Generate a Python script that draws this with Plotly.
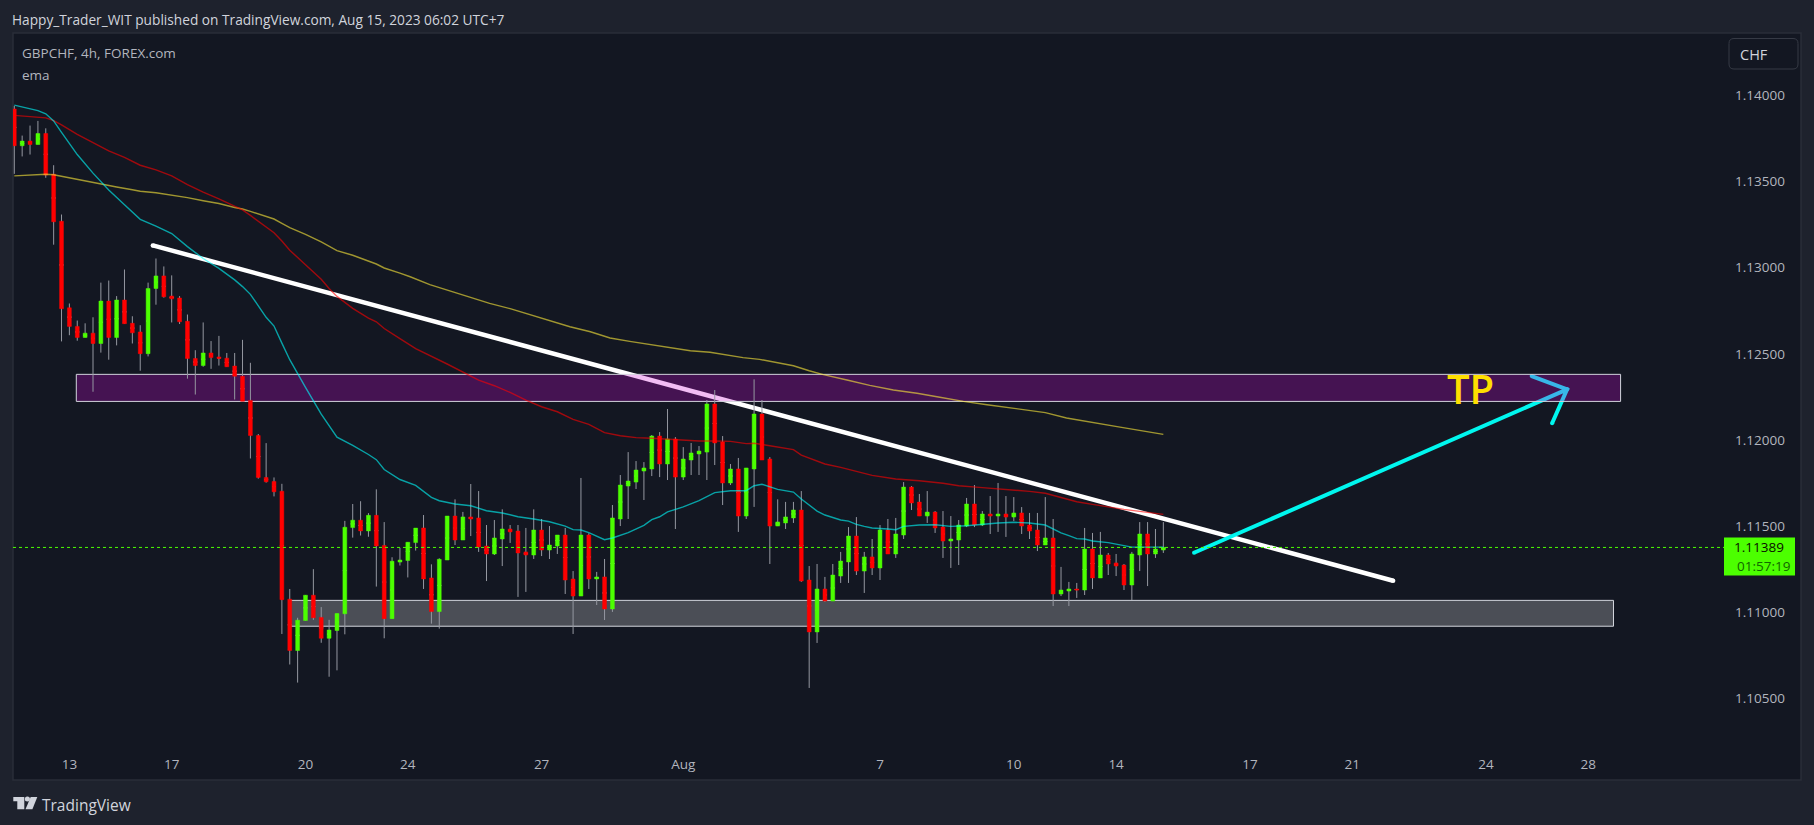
import plotly.graph_objects as go

# ---------- data ----------
opens = [1.13932,1.13719,1.13746,1.13726,1.13790,1.13554,1.13281,1.12779,1.12671,1.12607,
1.12632,1.12572,1.12818,1.12607,1.12824,1.12689,1.12639,1.12513,1.12891,1.12964,
1.12847,1.12836,1.12701,1.12485,1.12444,1.12517,1.12494,1.12487,1.12441,1.12382,
1.12242,1.12038,1.11795,1.11772,1.11715,1.11089,1.10791,1.10965,1.11112,1.10983,
1.10862,1.10907,1.11004,1.11504,1.11547,1.11485,1.11575,1.11400,1.10976,1.11304,
1.11313,1.11417,1.11502,1.11212,1.11017,1.11316,1.11571,1.11432,1.11566,1.11560,
1.11397,1.11351,1.11438,1.11496,1.11484,1.11363,1.11345,1.11490,1.11374,1.11397,
1.11461,1.11206,1.11107,1.11461,1.11206,1.11218,1.11032,1.11554,1.11745,1.11768,
1.11832,1.11844,1.12035,1.11873,1.12018,1.11797,1.11896,1.11931,1.11942,1.12221,
1.12000,1.11763,1.11844,1.11571,1.11844,1.12163,1.11902,1.11513,1.11531,1.11560,
1.11606,1.11200,1.10899,1.11148,1.11078,1.11223,1.11305,1.11455,1.11252,1.11334,
1.11270,1.11490,1.11351,1.11461,1.11739,1.11652,1.11571,1.11594,1.11507,1.11426,
1.11432,1.11513,1.11641,1.11519,1.11583,1.11571,1.11583,1.11565,1.11589,1.11519,
1.11490,1.11403,1.11444,1.11119,1.11136,1.11148,1.11142,1.11380,1.11212,1.11345,
1.11299,1.11287,1.11171,1.11345,1.11467,1.11351,1.11374]
closes = [1.13719,1.13746,1.13726,1.13790,1.13549,1.13278,1.12774,1.12671,1.12607,1.12632,
1.12572,1.12818,1.12607,1.12824,1.12687,1.12634,1.12513,1.12891,1.12964,1.12843,
1.12831,1.12698,1.12485,1.12444,1.12517,1.12490,1.12485,1.12437,1.12382,1.12237,
1.12038,1.11795,1.11770,1.11712,1.11086,1.10791,1.10967,1.11112,1.10981,1.10862,
1.10910,1.11006,1.11506,1.11547,1.11485,1.11575,1.11398,1.10976,1.11309,1.11316,
1.11419,1.11501,1.11206,1.11017,1.11320,1.11571,1.11432,1.11566,1.11554,1.11392,
1.11351,1.11444,1.11496,1.11479,1.11357,1.11345,1.11490,1.11374,1.11403,1.11461,
1.11200,1.11107,1.11461,1.11206,1.11218,1.11032,1.11560,1.11751,1.11774,1.11838,
1.11850,1.12035,1.11873,1.12018,1.11797,1.11902,1.11937,1.11948,1.12221,1.11995,
1.11763,1.11844,1.11571,1.11850,1.12163,1.11896,1.11513,1.11537,1.11566,1.11606,
1.11194,1.10899,1.11148,1.11078,1.11229,1.11310,1.11455,1.11252,1.11334,1.11270,
1.11490,1.11351,1.11467,1.11739,1.11647,1.11571,1.11594,1.11502,1.11426,1.11438,
1.11519,1.11641,1.11519,1.11583,1.11571,1.11583,1.11565,1.11589,1.11513,1.11484,
1.11403,1.11444,1.11119,1.11142,1.11148,1.11142,1.11380,1.11212,1.11345,1.11293,
1.11281,1.11171,1.11351,1.11467,1.11351,1.11380,1.11389]
highs = [1.13950,1.13778,1.13836,1.13863,1.13820,1.13606,1.13320,1.12804,1.12705,1.12689,
1.12724,1.12925,1.12937,1.12847,1.13001,1.12730,1.12678,1.12925,1.13065,1.13019,
1.12967,1.12847,1.12740,1.12533,1.12694,1.12586,1.12616,1.12517,1.12517,1.12593,
1.12460,1.12047,1.11994,1.11795,1.11758,1.11148,1.10981,1.11112,1.11263,1.11043,
1.10969,1.11006,1.11543,1.11641,1.11657,1.11588,1.11726,1.11536,1.11332,1.11387,
1.11419,1.11501,1.11577,1.11291,1.11326,1.11571,1.11668,1.11595,1.11757,1.11716,
1.11519,1.11548,1.11610,1.11519,1.11519,1.11502,1.11610,1.11554,1.11513,1.11461,
1.11502,1.11252,1.11792,1.11471,1.11247,1.11322,1.11635,1.11809,1.11942,1.11890,
1.11884,1.12041,1.12058,1.12192,1.12029,1.11971,1.11995,1.11977,1.12244,1.12302,
1.12035,1.11873,1.11908,1.11850,1.12364,1.12244,1.11913,1.11668,1.11653,1.11653,
1.11716,1.11281,1.11293,1.11218,1.11293,1.11363,1.11507,1.11565,1.11363,1.11438,
1.11519,1.11554,1.11560,1.11768,1.11745,1.11699,1.11716,1.11600,1.11600,1.11571,
1.11548,1.11676,1.11751,1.11600,1.11687,1.11763,1.11687,1.11681,1.11623,1.11589,
1.11589,1.11681,1.11554,1.11276,1.11189,1.11183,1.11502,1.11473,1.11479,1.11357,
1.11351,1.11293,1.11363,1.11536,1.11536,1.11496,1.11536]
lows = [1.13556,1.13657,1.13668,1.13726,1.13533,1.13145,1.12584,1.12620,1.12588,1.12607,
1.12292,1.12519,1.12478,1.12561,1.12687,1.12572,1.12414,1.12497,1.12797,1.12838,
1.12694,1.12685,1.12368,1.12276,1.12437,1.12425,1.12444,1.12437,1.12247,1.12237,
1.11905,1.11788,1.11765,1.11685,1.10887,1.10710,1.10605,1.10965,1.10969,1.10836,
1.10639,1.10676,1.10885,1.11446,1.11458,1.11451,1.11162,1.10862,1.10976,1.11284,
1.11215,1.11371,1.11148,1.10947,1.10918,1.11316,1.11403,1.11432,1.11455,1.11363,
1.11194,1.11345,1.11281,1.11415,1.11102,1.11131,1.11322,1.11339,1.11322,1.11351,
1.11119,1.10887,1.11107,1.11148,1.11055,1.10968,1.11015,1.11513,1.11554,1.11728,
1.11664,1.11803,1.11797,1.11780,1.11496,1.11780,1.11809,1.11809,1.11780,1.11867,
1.11635,1.11751,1.11479,1.11554,1.11624,1.11896,1.11293,1.11513,1.11496,1.11531,
1.11189,1.10574,1.10835,1.11073,1.11078,1.11183,1.11183,1.11229,1.11125,1.11229,
1.11200,1.11351,1.11328,1.11438,1.11606,1.11571,1.11531,1.11473,1.11328,1.11270,
1.11287,1.11507,1.11507,1.11513,1.11467,1.11479,1.11450,1.11542,1.11467,1.11438,
1.11368,1.11403,1.11049,1.11107,1.11049,1.11096,1.11113,1.11148,1.11212,1.11229,
1.11223,1.11142,1.11084,1.11252,1.11165,1.11328,1.11357]
bars = list(range(len(opens)))

teal_bar = [0,2,3,4,5,6,8,10,12,14,16,18,20,22,24,26,28,29,30,32,33,34,35,37,39,41,43,45,46,47,49,51,
52,53,54,56,58,60,62,64,66,68,70,71,72,73,75,76,78,80,81,82,83,85,87,89,91,93,94,95,97,99,100,101,102,
103,105,106,107,108,109,111,112,113,115,117,119,121,123,125,127,129,131,132,133,134,135,136,137,139,141,142,144,146]
teal_val = [1.13955,1.13934,1.13923,1.13904,1.13863,1.13797,1.13668,1.13560,1.13462,1.13377,1.13292,1.13253,1.13210,1.13134,1.13065,1.13008,1.12941,1.12902,1.12857,1.12724,1.12673,1.12574,1.12478,1.12318,1.12162,1.12029,1.11981,1.11928,1.11898,1.11841,1.11783,1.11749,
1.11712,1.11680,1.11660,1.11641,1.11631,1.11602,1.11589,1.11567,1.11554,1.11538,1.11513,1.11492,1.11490,1.11475,1.11434,1.11444,1.11475,1.11517,1.11550,1.11567,1.11595,1.11624,1.11660,1.11707,1.11718,1.11718,1.11747,1.11755,1.11726,1.11710,1.11670,1.11633,1.11600,
1.11577,1.11548,1.11542,1.11523,1.11511,1.11502,1.11496,1.11492,1.11511,1.11519,1.11521,1.11511,1.11515,1.11525,1.11531,1.11535,1.11531,1.11519,1.11494,1.11473,1.11457,1.11440,1.11438,1.11426,1.11417,1.11401,1.11391,1.11391,1.11391]

red_bar = [0,3,4,5,6,8,10,12,14,16,18,20,22,24,26,28,29,30,32,33,34,35,37,39,40,41,43,45,46,47,49,51,55,
59,61,63,65,67,69,71,73,75,77,79,81,83,85,87,89,91,93,94,96,98,99,100,102,
103,105,107,109,112,115,118,120,123,126,129,131,133,135,137,139,141,143,146]
red_val = [1.13895,1.13886,1.13881,1.13865,1.13840,1.13785,1.13735,1.13689,1.13652,1.13606,1.13579,1.13544,1.13494,1.13450,1.13411,1.13370,1.13347,1.13315,1.13246,1.13214,1.13166,1.13113,1.13029,1.12944,1.12891,1.12845,1.12776,1.12719,1.12698,1.12659,1.12600,1.12542,1.12453,
1.12360,1.12327,1.12288,1.12244,1.12205,1.12176,1.12132,1.12103,1.12055,1.12037,1.12026,1.12022,1.12016,1.12010,1.12006,1.12006,1.12004,1.11991,1.11993,1.11979,1.11966,1.11956,1.11925,1.11890,
1.11873,1.11853,1.11828,1.11807,1.11786,1.11776,1.11761,1.11747,1.11736,1.11726,1.11714,1.11703,1.11678,1.11654,1.11639,1.11623,1.11610,1.11598,1.11581]

gold_bar = [0,4,5,7,9,11,13,15,16,18,20,22,24,26,28,29,30,32,33,34,35,37,39,41,43,46,47,49,50.3,52.8,55.3,57.9,60.4,63,65.5,68,70.6,73.2,75.7,78.2,80.8,83.3,85.9,88.4,90.9,92.6,94.7,96.9,99,101,102.8,105.8,108.7,111.7,114.7,117.6,120.6,123.6,126.5,131,133.7,137,140.5,146]
gold_val = [1.13544,1.13554,1.13551,1.13533,1.13512,1.13496,1.13480,1.13464,1.13455,1.13446,1.13434,1.13418,1.13400,1.13384,1.13361,1.13352,1.13338,1.13308,1.13294,1.13269,1.13244,1.13205,1.13161,1.13111,1.13084,1.13033,1.13010,1.12980,1.12959,1.12913,1.12878,1.12843,1.12805,1.12774,1.12739,1.12708,1.12669,1.12640,1.12604,1.12584,1.12565,1.12548,1.12530,1.12521,1.12503,1.12490,1.12480,1.12461,1.12443,1.12414,1.12391,1.12360,1.12329,1.12302,1.12283,1.12260,1.12236,1.12217,1.12198,1.12171,1.12140,1.12113,1.12087,1.12045]

trend_bar = [17.6, 175.2]
trend_val = [1.13141, 1.11196]
arrow_bar = [149.9, 197.3, 192.8, 197.3, 195.4]
arrow_val = [1.11358, 1.12306, 1.12383, 1.12306, 1.12109]
purple_bar = [7.88, 204.1]
purple_val = [1.12236, 1.12393]
gray_bar = [34.9, 203.2]
gray_val = [1.10932, 1.11082]
last_price = 1.11389

price_ticks = [1.10500, 1.11000, 1.11500, 1.12000, 1.12500, 1.13000, 1.13500, 1.14000]
date_tick_bar = [7, 20, 37, 50, 67, 85, 110, 127, 140, 157, 170, 187, 200]
date_tick_text = ["13", "17", "20", "24", "27", "Aug", "7", "10", "14", "17", "21", "24", "28"]

# ---------- layout geometry ----------
W, H = 1814, 825
L, R, T, B = 13, 1724, 33, 750
XR = [-0.165, 217.24]
YR = [1.10214, 1.14373]
FONT = "Open Sans"
BG, PANEL, EDGE = "#1e222d", "#131722", "#2a2e39"
TXT = "#b2b5be"

def px(x): return (x - L) / (R - L)
def py(y): return 1 - (y - T) / (B - T)

def rect_path(x0, y0, x1, y1):
    return f"M{px(x0)},{py(y0)} L{px(x1)},{py(y0)} L{px(x1)},{py(y1)} L{px(x0)},{py(y1)} Z"

def round_path(x0, y0, x1, y1, r):
    return (f"M{px(x0+r)},{py(y0)} L{px(x1-r)},{py(y0)} Q{px(x1)},{py(y0)} {px(x1)},{py(y0+r)} "
            f"L{px(x1)},{py(y1-r)} Q{px(x1)},{py(y1)} {px(x1-r)},{py(y1)} L{px(x0+r)},{py(y1)} "
            f"Q{px(x0)},{py(y1)} {px(x0)},{py(y1-r)} L{px(x0)},{py(y0+r)} Q{px(x0)},{py(y0)} {px(x0+r)},{py(y0)} Z")

def box_xy(xs, ys):
    return [xs[0], xs[1], xs[1], xs[0], xs[0]], [ys[0], ys[0], ys[1], ys[1], ys[0]]

fig = go.Figure()

# drawings (main subplot, beneath the price series)
fig.add_trace(go.Scatter(x=trend_bar, y=trend_val, mode="lines+markers", line=dict(color="#ffffff", width=4.5),
                         marker=dict(color="#ffffff", size=4.5), hoverinfo="skip"))
fig.add_trace(go.Scatter(x=arrow_bar, y=arrow_val, mode="lines+markers", line=dict(color="#00f7ef", width=4),
                         marker=dict(color="#00f7ef", size=4), hoverinfo="skip"))
px_box, py_box = box_xy(purple_bar, purple_val)
fig.add_trace(go.Scatter(x=px_box, y=py_box, mode="lines", fill="toself", fillcolor="rgba(208,12,215,0.27)",
                         line=dict(color="#d1d4dc", width=1), hoverinfo="skip"))
gx_box, gy_box = box_xy(gray_bar, gray_val)
fig.add_trace(go.Scatter(x=gx_box, y=gy_box, mode="lines", fill="toself", fillcolor="rgba(255,255,255,0.24)",
                         line=dict(color="#d1d4dc", width=1), hoverinfo="skip"))

# candles on an overlaying axis pair
mids = [(o + c) / 2 for o, c in zip(opens, closes)]
fig.add_trace(go.Candlestick(x=bars, open=mids, close=mids, high=highs, low=lows, xaxis="x2", yaxis="y2",
                             increasing=dict(line=dict(color="#9598a1", width=1), fillcolor="#9598a1"),
                             decreasing=dict(line=dict(color="#9598a1", width=1), fillcolor="#9598a1"),
                             whiskerwidth=0, hoverinfo="skip"))
fig.add_trace(go.Candlestick(x=bars, open=opens, close=closes,
                             high=[max(o, c) for o, c in zip(opens, closes)],
                             low=[min(o, c) for o, c in zip(opens, closes)], xaxis="x2", yaxis="y2",
                             increasing=dict(line=dict(color="#4cff00", width=0.5), fillcolor="#4cff00"),
                             decreasing=dict(line=dict(color="#ff0000", width=0.5), fillcolor="#ff0000"),
                             whiskerwidth=0, hoverinfo="skip"))
for xs, ys, col in [(gold_bar, gold_val, "rgba(255,235,59,0.6)"),
                    (red_bar, red_val, "rgba(255,0,0,0.6)"),
                    (teal_bar, teal_val, "rgba(0,255,255,0.6)")]:
    fig.add_trace(go.Scatter(x=xs, y=ys, mode="lines", line=dict(color=col, width=1.4), xaxis="x2", yaxis="y2", hoverinfo="skip"))

shapes = [
    dict(type="path", xref="paper", yref="paper", path=rect_path(13, 33, 1801, 780),
         fillcolor=PANEL, line=dict(color=EDGE, width=1.5), layer="below"),
    dict(type="line", xref="paper", x0=0, x1=1, yref="y", y0=last_price, y1=last_price,
         line=dict(color="#4cff00", width=1, dash="dot"), layer="above"),
    dict(type="path", xref="paper", yref="paper", path=rect_path(1724, 537.5, 1795, 575.5),
         fillcolor="#4cff00", line=dict(width=0), layer="above"),
    dict(type="path", xref="paper", yref="paper", path=round_path(1729, 38.5, 1798, 69, 5),
         fillcolor=PANEL, line=dict(color="#363a45", width=1), layer="above"),
    # TradingView logo
    dict(type="path", xref="paper", yref="paper",
         path=(f"M{px(13.3)},{py(797)} L{px(24.3)},{py(797)} L{px(24.3)},{py(809.3)} L{px(17.3)},{py(809.3)} "
               f"L{px(17.3)},{py(801.3)} L{px(13.3)},{py(801.3)} Z"),
         fillcolor="#d1d4dc", line=dict(width=0), layer="above"),
    dict(type="circle", xref="paper", yref="paper", x0=px(24.8), x1=px(30), y0=py(801.6), y1=py(796.6),
         fillcolor="#d1d4dc", line=dict(width=0), layer="above"),
    dict(type="path", xref="paper", yref="paper",
         path=(f"M{px(30.7)},{py(797)} L{px(37.3)},{py(797)} L{px(32.4)},{py(809.3)} L{px(25.5)},{py(809.3)} Z"),
         fillcolor="#d1d4dc", line=dict(width=0), layer="above"),
]

def note(x, y, text, size, color, xanchor="left", family=FONT, weight=None):
    f = dict(family=family, size=size, color=color)
    if weight: f["weight"] = weight
    return dict(xref="paper", yref="paper", x=px(x), y=py(y), text=text, showarrow=False,
                xanchor=xanchor, yanchor="middle", font=f, xshift=0, yshift=0, borderpad=0, borderwidth=0, align="left")

annotations = [
    note(12, 19, "Happy_Trader_WIT published on TradingView.com, Aug 15, 2023 06:02 UTC+7", 13.7, "#d1d4dc"),
    note(22, 53, "GBPCHF, 4h, FOREX.com", 13.5, TXT),
    note(22, 75, "ema", 13.5, TXT),
    note(1740, 54, "CHF", 14.5, "#d1d4dc"),
    note(1784, 547, "1.11389", 13.5, "#0a0f00", xanchor="right"),
    note(1790, 566, "01:57:19", 13.5, "#116600", xanchor="right"),
    note(42, 805, "TradingView", 15.5, "#d1d4dc"),
    note(1470, 388, "TP", 40, "#ffdf00", xanchor="center", weight=600),
]

fig.update_layout(
    width=W, height=H, autosize=False, showlegend=False,
    paper_bgcolor=BG, plot_bgcolor="rgba(0,0,0,0)",
    margin=dict(l=L, r=W - R, t=T, b=H - B, pad=0),
    shapes=shapes, annotations=annotations,
    boxgap=0.3, boxmode="overlay",
    xaxis=dict(range=XR, tickmode="array", tickvals=date_tick_bar, ticktext=date_tick_text, showgrid=False, zeroline=False,
               showline=False, ticks="", ticklabelstandoff=4, tickfont=dict(family=FONT, size=13.5, color=TXT),
               rangeslider=dict(visible=False), fixedrange=True),
    yaxis=dict(range=YR, tickmode="array", tickvals=price_ticks, ticktext=[f"{v:.5f}" for v in price_ticks], side="right",
               showgrid=False, zeroline=False, showline=False, ticks="", ticklabelstandoff=10, ticklabelshift=-2,
               tickfont=dict(family=FONT, size=13.5, color=TXT), fixedrange=True),
    xaxis2=dict(range=XR, overlaying="x", visible=False, rangeslider=dict(visible=False), fixedrange=True),
    yaxis2=dict(range=YR, overlaying="y", visible=False, fixedrange=True),
)

fig.write_html("out.html", config=dict(displayModeBar=False),
               post_script="document.body.style.margin='0';document.body.style.overflow='hidden';")
